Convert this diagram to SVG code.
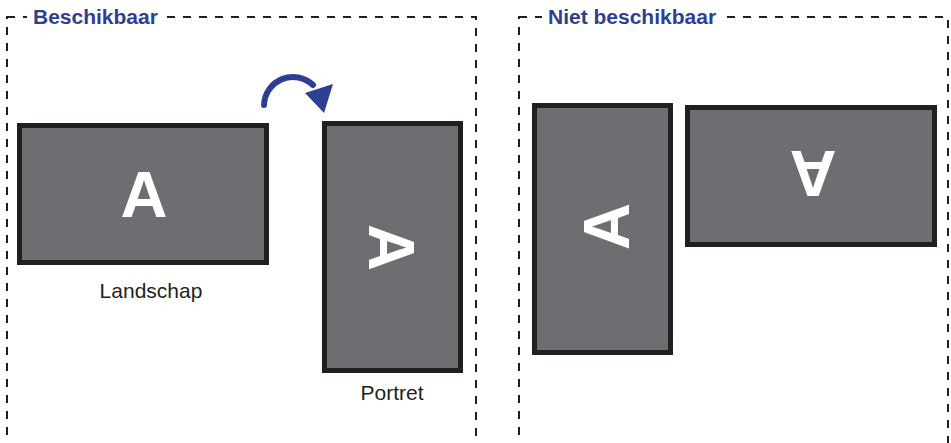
<svg xmlns="http://www.w3.org/2000/svg" width="951" height="443" viewBox="0 0 951 443">
<style>
.frame{fill:none;stroke:#231F20;stroke-width:2;stroke-dasharray:8 8}
.screen{fill:#6D6E71;stroke:#231F20;stroke-width:5}
.big{font-family:"Liberation Sans",Arial,sans-serif;font-weight:bold;font-size:65px;fill:#FFFFFF;text-anchor:middle}
.title{font-family:"Liberation Sans",Arial,sans-serif;font-weight:bold;font-size:21px;fill:#2E3F93}
.label{font-family:"Liberation Sans",Arial,sans-serif;font-size:21px;fill:#231F20;text-anchor:middle}
</style>
<rect width="951" height="443" fill="#FFFFFF"/>
<g id="frame-beschikbaar">
<rect class="frame" x="7" y="17" width="469" height="460"/>
<rect x="27" y="4" width="136" height="26" fill="#FFFFFF"/>
<text class="title" x="33" y="24">Beschikbaar</text>
</g>
<g id="frame-niet-beschikbaar">
<rect class="frame" x="519" y="17" width="429" height="460"/>
<rect x="542" y="4" width="181" height="26" fill="#FFFFFF"/>
<text class="title" x="548" y="24">Niet beschikbaar</text>
</g>
<g id="landschap">
<rect class="screen" x="19.5" y="125.5" width="247" height="137"/>
<text class="big" x="144" y="217">A</text>
<text class="label" x="151" y="298">Landschap</text>
</g>
<g id="portret">
<rect class="screen" x="324.5" y="123.5" width="136" height="247"/>
<text class="big" transform="translate(392,247.5) rotate(90)" x="0" y="23">A</text>
<text class="label" x="392" y="400">Portret</text>
</g>
<g id="niet-portret">
<rect class="screen" x="534.5" y="105.5" width="136" height="247"/>
<text class="big" transform="translate(606,226.5) rotate(-90)" x="0" y="23">A</text>
</g>
<g id="niet-landschap">
<rect class="screen" x="687.5" y="107.5" width="247" height="137"/>
<text class="big" transform="translate(813,173.5) rotate(180)" x="0" y="23">A</text>
</g>
<g id="connectors">
<path d="M264,105 A29,29 0 0 1 313,85" fill="none" stroke="#2E3F93" stroke-width="6" stroke-linecap="round"/>
<polygon points="305,93 333,84 324,113" fill="#2E3F93"/>
</g>
</svg>
